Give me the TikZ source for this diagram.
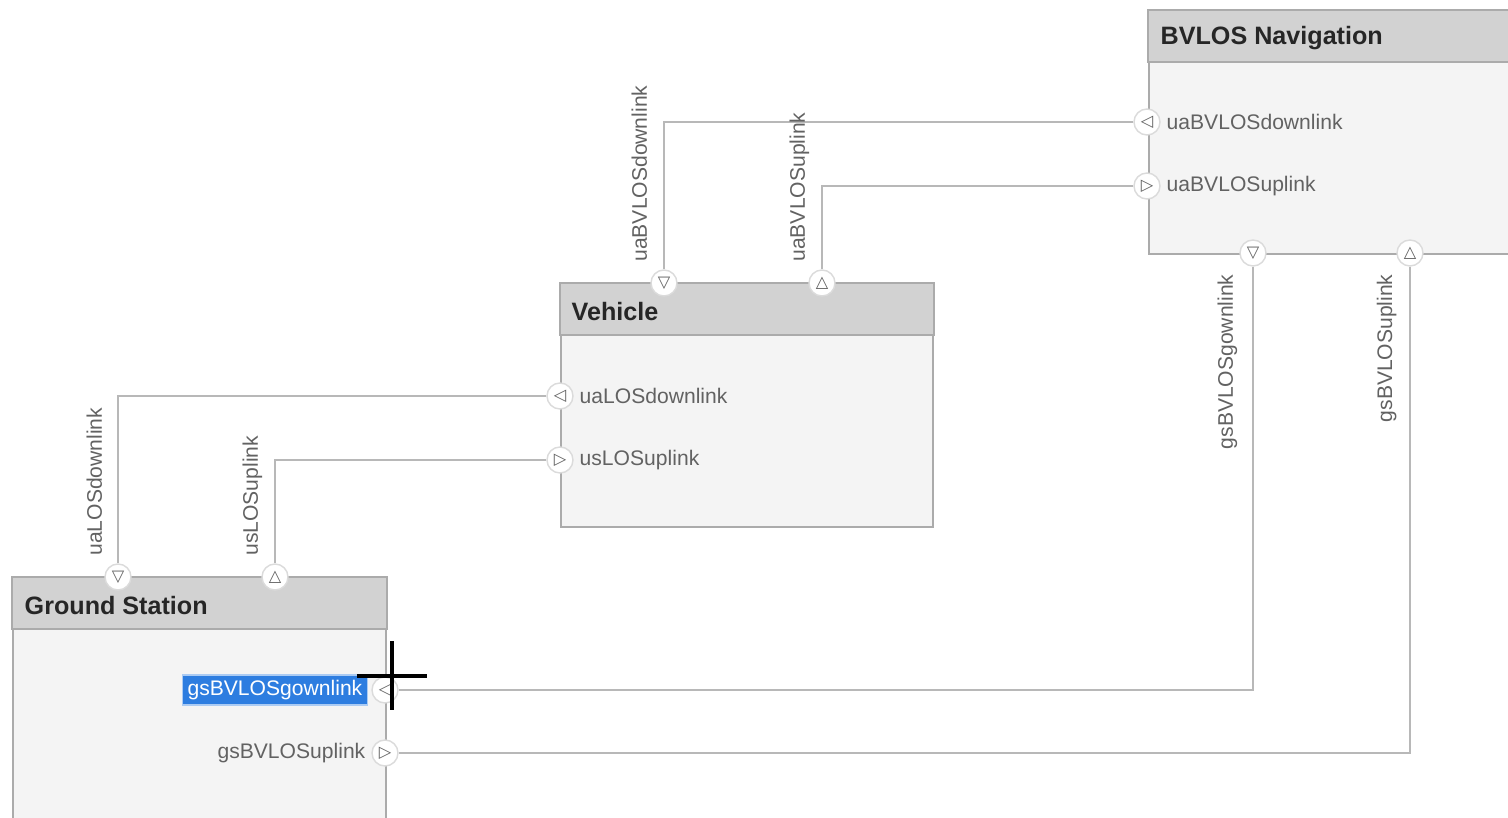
\documentclass[tikz,border=0pt]{standalone}
\usepackage{fontspec}
\setmainfont{Liberation Sans}
\newfontfamily\symfont{DejaVu Sans}
\usetikzlibrary{calc}
\definecolor{bodygray}{HTML}{F4F4F4}
\definecolor{headgray}{HTML}{D2D2D2}
\definecolor{edgegray}{HTML}{ABABAB}
\definecolor{wiregray}{HTML}{B8B8B8}
\definecolor{labgray}{HTML}{626262}
\definecolor{selblue}{HTML}{2D7DE0}

\begin{document}
\begin{tikzpicture}[x=0.01cm, y=-0.01cm,
  block/.style={draw=edgegray, fill=bodygray, line width=0.6pt, anchor=north west, inner sep=0pt},
  head/.style={draw=edgegray, fill=headgray, line width=0.6pt},
  title/.style={anchor=west, font=\bfseries\fontsize{7.15}{8}\selectfont, text=black!85, inner sep=0pt},
  port/.style={circle, draw=black!14, fill=white, line width=0.4pt, minimum size=0.26cm, inner sep=0pt, font=\symfont\bfseries\fontsize{4.6}{5}\selectfont, text=black!62},
  plabel/.style={font=\fontsize{6}{7}\selectfont, text=labgray, inner sep=1.5pt},
  wire/.style={draw=wiregray, line width=0.5pt},
  wlabel/.style={font=\fontsize{6}{7}\selectfont, text=labgray, rotate=90, inner sep=2pt}]

  \clip (0,0) rectangle (1508,818);
  \fill[white] (0,0) rectangle (1508,818);

  % BVLOS Navigation, cut off at the right edge
  \node[block, minimum width=3.8cm, minimum height=2.43cm] (nav) at (1148,10) {};
  \draw[head] (nav.north west) rectangle ([yshift=-0.52cm]nav.north east);
  \node[title] at (1160,38) {BVLOS Navigation};
  \node[port] (navdn) at (1147,122) {◁};
  \node[port] (navup) at (1147,186) {▷};
  \node[port] (navgd) at (1253,253) {▽};
  \node[port] (navgu) at (1410,253) {△};
  \node[plabel, anchor=west] at (navdn.east) {uaBVLOSdownlink};
  \node[plabel, anchor=west] at (navup.east) {uaBVLOSuplink};

  % Vehicle
  \node[block, minimum width=3.72cm, minimum height=2.43cm] (veh) at (560,283) {};
  \draw[head] (veh.north west) rectangle ([yshift=-0.52cm]veh.north east);
  \node[title] at (571,312) {Vehicle};
  \node[port] (vehdn) at (664,283) {▽};
  \node[port] (vehup) at (822,283) {△};
  \node[port] (vehldn) at (560,396) {◁};
  \node[port] (vehlup) at (560,460) {▷};
  \node[plabel, anchor=west] at (vehldn.east) {uaLOSdownlink};
  \node[plabel, anchor=west] at (vehlup.east) {usLOSuplink};

  % Ground Station, cut off at the bottom
  \node[block, minimum width=3.73cm, minimum height=2.6cm] (gs) at (12,577) {};
  \draw[head] (gs.north west) rectangle ([yshift=-0.52cm]gs.north east);
  \node[title] at (24,606) {Ground Station};
  \node[port] (gsdn) at (118,577) {▽};
  \node[port] (gsup) at (275,577) {△};
  \node[port] (gsbdn) at (385,690) {◁};
  \node[port] (gsbup) at (385,753) {▷};
  \node[plabel, anchor=east, fill=selblue, draw=selblue!40, text=white] at ([xshift=-0.03cm]gsbdn.west) {gsBVLOSgownlink};
  \node[plabel, anchor=east] at (gsbup.west) {gsBVLOSuplink};

  % links
  \draw[wire] (navdn.west) -| (vehdn.north);
  \draw[wire] (navup.west) -| (vehup.north);
  \draw[wire] (vehldn.west) -| (gsdn.north);
  \draw[wire] (vehlup.west) -| (gsup.north);
  \draw[wire] (navgd.south) |- (gsbdn.east);
  \draw[wire] (navgu.south) |- (gsbup.east);

  % link names
  \node[wlabel, anchor=base west] at ([xshift=-0.17cm]vehdn.north) {uaBVLOSdownlink};
  \node[wlabel, anchor=base west] at ([xshift=-0.17cm]vehup.north) {uaBVLOSuplink};
  \node[wlabel, anchor=base west] at ([xshift=-0.16cm]gsdn.north) {uaLOSdownlink};
  \node[wlabel, anchor=base west] at ([xshift=-0.17cm]gsup.north) {usLOSuplink};
  \node[wlabel, anchor=base east] at ([xshift=-0.2cm]navgd.south) {gsBVLOSgownlink};
  \node[wlabel, anchor=base east] at ([xshift=-0.18cm]navgu.south) {gsBVLOSuplink};

  % mouse cursor
  \draw[line width=1.1pt] (392,641) -- (392,710);
  \draw[line width=1.1pt] (357,676) -- (427,676);
\end{tikzpicture}
\end{document}
